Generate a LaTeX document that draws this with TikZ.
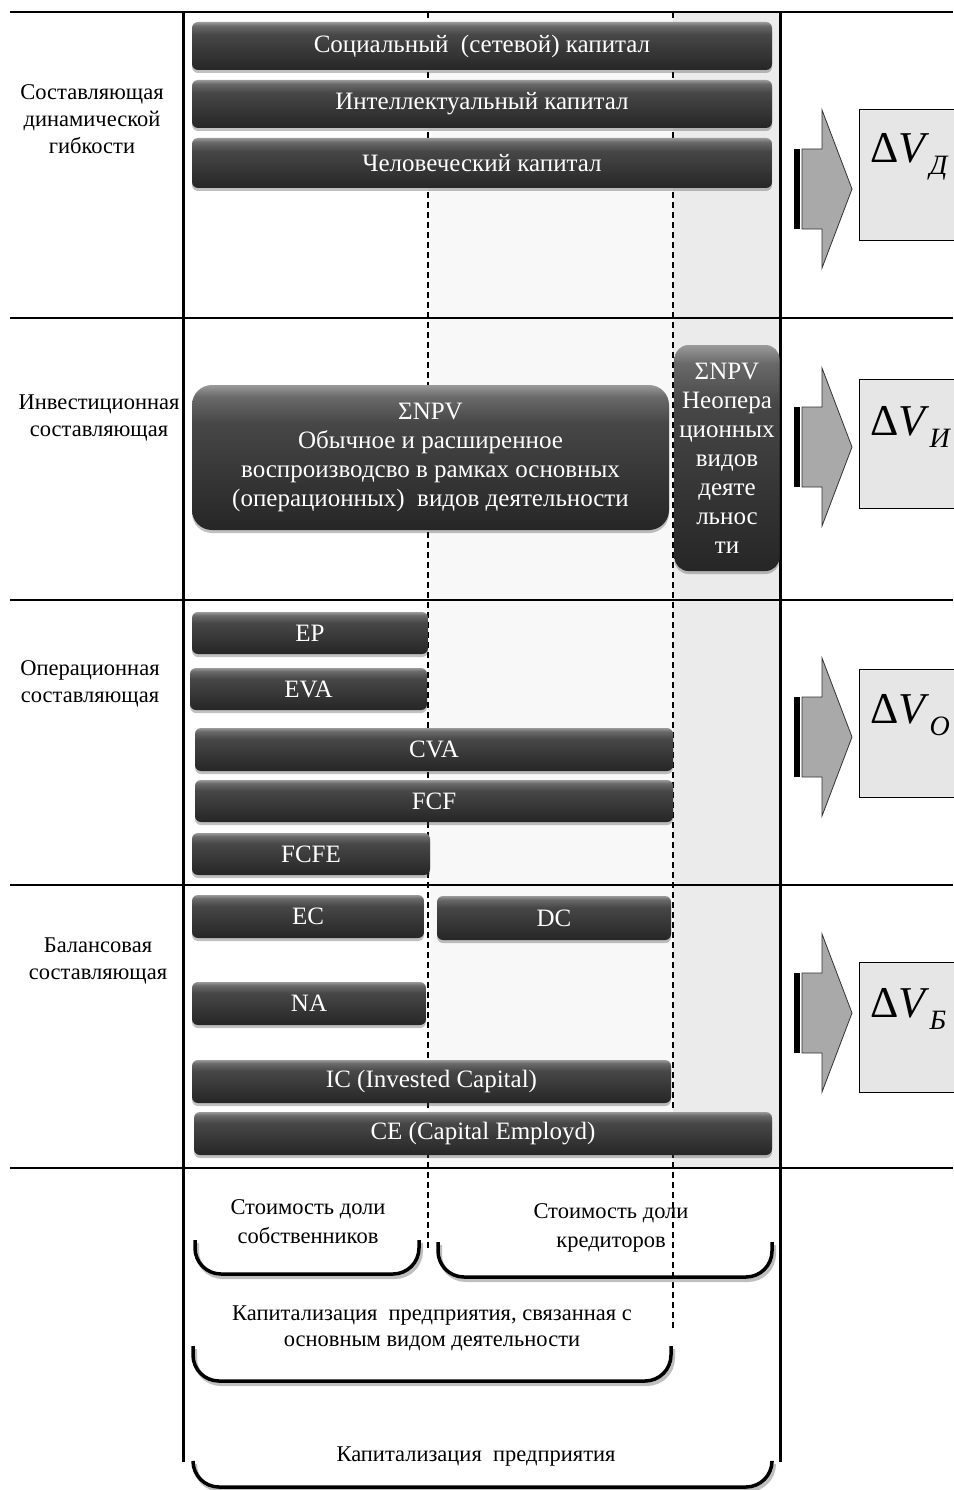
\documentclass[tikz,border=0pt]{standalone}
\usepackage{fontspec}
\setmainfont{Liberation Serif}
\usetikzlibrary{shadows}
\definecolor{barT}{HTML}{9A9A9A}
\definecolor{barA}{HTML}{6A6A6A}
\definecolor{barB}{HTML}{474747}
\definecolor{barC}{HTML}{333333}
\definecolor{barD}{HTML}{262626}
\definecolor{colA}{HTML}{F8F8F8}
\definecolor{colB}{HTML}{EBEBEB}
\definecolor{boxF}{HTML}{E6E6E6}
\definecolor{arrF}{HTML}{A9A9A9}
\pgfdeclareverticalshading{barsh}{100bp}{color(0bp)=(barD); color(25bp)=(barD); color(40bp)=(barC); color(62bp)=(barB); color(71bp)=(barA); color(75bp)=(barT); color(100bp)=(barT)}
\tikzset{
  bar/.style={shade, shading=barsh, rounded corners=6pt, text=white, inner sep=0pt,
    font=\fontsize{25}{29}\selectfont, align=center,
    drop shadow={shadow xshift=0pt, shadow yshift=-3pt, opacity=.35, fill=black!70}},
  lbl/.style={font=\fontsize{22.5}{27}\selectfont, align=center, inner sep=0pt},
  btxt/.style={font=\fontsize{22.5}{29}\selectfont, align=center, inner sep=0pt},
  grid line/.style={line width=1.3pt},
  main line/.style={line width=3pt},
  dash line/.style={line width=1.2pt, dash pattern=on 6pt off 4pt},
  brace line/.style={line width=3.5pt, rounded corners=26pt},
  brace shadow/.style={line width=4pt, rounded corners=26pt, black!25},
  dvbox/.style={draw=black, line width=1pt, fill=boxF},
  arrowbody/.style={draw=black!80, line width=0.8pt, fill=arrF},
  dv/.style={font=\fontsize{44}{44}\selectfont, inner sep=0pt, anchor=base west}
}
\newcommand{\dvsub}[1]{\raisebox{-12pt}{\fontsize{28}{28}\selectfont\itshape #1}}
\begin{document}
\begin{tikzpicture}[x=1pt,y=-1pt]
\useasboundingbox (0,0) rectangle (953,1490);
\fill[white] (0,0) rectangle (953,1490);
% background columns
\fill[colA] (428,12) rectangle (673,1168);
\fill[colB] (673,12) rectangle (780,1168);
% horizontal grid lines
\foreach \yy in {12,318,600,885,1168} \draw[grid line] (10,\yy) -- (953,\yy);
% dashed lines
\draw[dash line] (428,12) -- (428,1250);
\draw[dash line] (673,12) -- (673,1328);
% main vertical lines
\draw[main line] (183,12) -- (183,1462);
\draw[main line] (780,12) -- (780,1462);

% left labels
\node[lbl] (l1) at (92,119) {Составляющая\\динамической\\гибкости};
\node[lbl] (l2) at (99,418) {Инвестиционная\\составляющая};
\node[lbl] (l3) at (90,684) {Операционная\\составляющая};
\node[lbl] (l4) at (98,961) {Балансовая\\составляющая};

% bars: flexibility
\node[bar, minimum width=580pt, minimum height=48pt] (soc) at (482,46) {Социальный\ \ (сетевой) капитал};
\node[bar, minimum width=580pt, minimum height=48pt] (int) at (482,104) {Интеллектуальный капитал};
\node[bar, minimum width=580pt, minimum height=50pt] (hum) at (482,163) {Человеческий капитал};
% investment
\node[bar, rounded corners=20pt, minimum width=477pt, minimum height=145pt] (npv) at (430.5,457.5)
  {ΣNPV\\Обычное и расширенное\\воспроизводсво в рамках основных\\(операционных)\ \ видов деятельности};
\node[bar, rounded corners=14pt, minimum width=105pt, minimum height=226pt] (npv2) at (727,458)
  {ΣNPV\\Неопера\\ционных\\видов\\деяте\\льнос\\ти};
% operational
\node[bar, minimum width=236pt, minimum height=42pt] (ep) at (310,633) {EP};
\node[bar, minimum width=237pt, minimum height=42pt] (eva) at (308.5,689) {EVA};
\node[bar, minimum width=478pt, minimum height=43pt] (cva) at (434,749.5) {CVA};
\node[bar, minimum width=478pt, minimum height=42pt] (fcf) at (434,801) {FCF};
\node[bar, minimum width=238pt, minimum height=42pt] (fcfe) at (311,854) {FCFE};
% balance
\node[bar, minimum width=232pt, minimum height=43pt] (ec) at (308,916.5) {EC};
\node[bar, minimum width=234pt, minimum height=44pt] (dc) at (554,918) {DC};
\node[bar, minimum width=234pt, minimum height=43pt] (na) at (309,1003.5) {NA};
\node[bar, minimum width=479pt, minimum height=43pt] (ic) at (431.5,1081.5) {IC (Invested Capital)};
\node[bar, minimum width=578pt, minimum height=43pt] (ce) at (483,1133.5) {CE (Capital Employd)};

% right arrows and boxes
\foreach \cy/\bt/\bb/\bl/\sub/\nm in {189/110/240/163/Д/d, 447/379/508/435/И/i, 737/669/797/723/O/o, 1013/962/1092/1017/Б/b}{
  \fill[black] (794,\cy-40) rectangle (800,\cy+40);
  \draw[arrowbody] (802,\cy-40) -- (822,\cy-40) -- (822,\cy-79) -- (852,\cy) -- (822,\cy+79) -- (822,\cy+40) -- (802,\cy+40) -- cycle;
  \draw[dvbox] (859,\bt) rectangle (962,\bb);
  \node[dv] (dv\nm) at (870,\bl) {Δ\textit{V}\dvsub{\sub}};
}

% bottom braces
\foreach \xa/\xb/\ya/\yb in {195/419/1240/1274, 438/772/1242/1277, 193/671/1346/1381, 193/772/1462/1487}{
  \draw[brace shadow] (\xa+2,\ya+3) -- (\xa+2,\yb+3) -- (\xb+2,\yb+3) -- (\xb+2,\ya+3);
  \draw[brace line] (\xa,\ya) -- (\xa,\yb) -- (\xb,\yb) -- (\xb,\ya);
}
\node[btxt] (t1) at (308,1222) {Стоимость доли\\собственников};
\node[btxt] (t2) at (611,1228) {Стоимость доли\\кредиторов};
\node[btxt, font=\fontsize{22.5}{26}\selectfont] (t3) at (432,1328) {Капитализация\ \ предприятия, связанная с\\основным видом деятельности};
\node[btxt] (t4) at (476,1457) {Капитализация\ \ предприятия};
\end{tikzpicture}
\end{document}
